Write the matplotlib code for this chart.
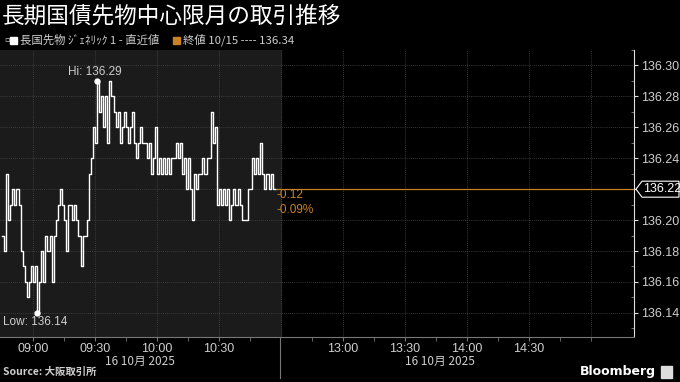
import matplotlib
matplotlib.use("Agg")
import matplotlib.pyplot as plt
import numpy as np
from matplotlib.lines import Line2D
from matplotlib.patches import Rectangle, Polygon

plt.rcParams['font.family'] = ['Noto Sans CJK JP', 'DejaVu Sans']

# price levels in 1/100 above 136.00, one per minute from 08:45
levels = [19, 18, 23, 20, 21, 22, 21, 22, 21, 18,
          17, 16, 15, 16, 17, 16, 17, 14, 16, 18,
          16, 19, 18, 19, 16, 19, 20, 21, 22, 21,
          20, 18, 21, 21, 20, 21, 20, 19, 17, 19,
          19, 20, 23, 24, 26, 25, 29, 27, 28, 26,
          28, 25, 29, 28, 27, 26, 27, 25, 26, 27,
          26, 25, 26, 27, 25, 24, 25, 26, 25, 25,
          24, 25, 23, 24, 26, 23, 24, 23, 24, 23,
          24, 23, 24, 24, 25, 24, 25, 23, 24, 22,
          24, 22, 20, 23, 22, 23, 23, 24, 23, 24,
          24, 27, 25, 26, 21, 22, 21, 22, 21, 22,
          20, 21, 22, 21, 22, 21, 20, 20, 20, 22,
          22, 24, 23, 24, 23, 25, 23, 22, 23, 22,
          23, 22, 22]
prices = 136 + np.array(levels) / 100.0
minutes = np.arange(len(prices))

last_price = 136.22
change_txt = ["-0.12", "-0.09%"]
hi_val, lo_val = 136.29, 136.14

# x axis: minutes from 08:45, lunch break removed (12:30 sits at 135)
major_pos = [15, 45, 75, 105, 165, 195, 225, 255]
major_lbl = ["09:00", "09:30", "10:00", "10:30", "13:00", "13:30", "14:00", "14:30"]
minor_pos = [30, 60, 90, 120, 150, 180, 210, 240, 270, 285]
session_split = 135
date_lbl = "16 10月 2025"

yticks = [136.14, 136.16, 136.18, 136.20, 136.22, 136.24, 136.26, 136.28, 136.30]

grey = '#cfcfcf'
orange = '#c98326'
num_font = 'Liberation Sans'

W, H = 680, 382


def fx(px):
    return px / W


def fy(py):
    return 1 - py / H


fig = plt.figure(figsize=(6.8, 3.82), dpi=100, facecolor='black')
ax = fig.add_axes([0.0, 0.1178, 0.932, 0.7513])
ax.set_facecolor('black')
ax.set_xlim(-0.97, 305.8)
ax.set_ylim(136.1244, 136.3044)

# morning session shading
ax.axvspan(-0.97, session_split, color='#1b1b1b', zorder=0)

# grid
for yv in yticks:
    ax.axhline(yv, color='#4a4a4a', lw=0.6, ls=(0, (1, 1.5)), zorder=1)
for xv in major_pos + [session_split, 285]:
    ax.axvline(xv, color='#4a4a4a', lw=0.6, ls=(0, (1, 1.5)), zorder=1)

# price line
ax.plot(minutes, prices, color='white', lw=1.0, drawstyle='steps-post', zorder=3)

# last price line
ax.plot([minutes[-1], 305.8], [last_price, last_price], color=orange, lw=0.9, zorder=2)
ax.text(minutes[-1] + 1, last_price - 0.0035, change_txt[0], color=orange,
        fontsize=8.5, va='center', ha='left', family=num_font)
ax.text(minutes[-1] + 1, last_price - 0.0135, change_txt[1], color=orange,
        fontsize=8.5, va='center', ha='left', family=num_font)

# hi / low markers
hi_i = int(np.argmax(prices))
lo_i = int(np.argmin(prices))
ax.plot([minutes[hi_i]], [hi_val], 'o', color='white', ms=3.5, zorder=4)
ax.plot([minutes[lo_i]], [lo_val], 'o', color='white', ms=3.5, zorder=4)
ax.text(minutes[hi_i] - 14, hi_val + 0.0055, "Hi: %.2f" % hi_val, color=grey,
        fontsize=8.5, va='center', ha='left', family=num_font)
ax.text(0.5, lo_val - 0.0058, "Low: %.2f" % lo_val, color=grey,
        fontsize=8.5, va='center', ha='left', family=num_font)

# axes styling
for s in ['top', 'left']:
    ax.spines[s].set_visible(False)
ax.spines['right'].set_color('#e0e0e0')
ax.spines['bottom'].set_color('#777777')
ax.yaxis.tick_right()
ax.set_yticks(yticks)
ax.set_yticklabels(["" if abs(v - last_price) < 1e-6 else "%.2f" % v for v in yticks],
                   family=num_font)
ax.set_yticks(np.arange(136.13, 136.31, 0.01), minor=True)
ax.tick_params(axis='y', which='major', colors='#e0e0e0', labelcolor=grey,
               labelsize=9, length=3, width=0.8, pad=2)
ax.tick_params(axis='y', which='minor', colors='#888888', length=2, direction='in')
ax.set_xticks(major_pos)
ax.set_xticklabels(major_lbl, family=num_font)
ax.set_xticks(minor_pos, minor=True)
ax.tick_params(axis='x', which='major', colors='#777777', labelcolor=grey,
               labelsize=9, length=3, pad=1)
ax.tick_params(axis='x', which='minor', colors='#777777', length=3)

# current value tag on the right axis
fig.canvas.draw()
tag_y = H - ax.transData.transform((0, last_price))[1]
tag = Polygon([(fx(636), fy(tag_y)), (fx(642), fy(tag_y - 8)), (fx(679), fy(tag_y - 8)),
               (fx(679), fy(tag_y + 8)), (fx(642), fy(tag_y + 8))],
              closed=True, fc='black', ec='white', lw=0.8)
fig.add_artist(tag)
fig.text(fx(643), fy(tag_y), "%.2f" % last_price, color='white', fontsize=9,
         va='center', ha='left', family=num_font)

# date labels under the time axis
fig.text(fx(140), fy(361), date_lbl, color=grey, fontsize=8.5, ha='center', va='center')
fig.text(fx(440), fy(361), date_lbl, color=grey, fontsize=8.5, ha='center', va='center')

# session separator below the axis
fig.add_artist(Line2D([fx(280), fx(280)], [fy(337), fy(378)], color='#777777', lw=0.8))

# title and legend
fig.text(fx(2), fy(16), "長期国債先物中心限月の取引推移", color='white',
         fontsize=16.3, ha='left', va='center')
fig.text(fx(4), fy(40), "▫", color=grey, fontsize=6, ha='left', va='center',
         family=['DejaVu Sans'])
fig.add_artist(Rectangle((fx(10), fy(44)), 7 / W, 7 / H, color='white'))
fig.text(fx(20), fy(40), "長国先物 ｼﾞｪﾈﾘｯｸ 1 - 直近値", color=grey,
         fontsize=8.2, ha='left', va='center')
fig.add_artist(Rectangle((fx(173), fy(44)), 7 / W, 7 / H, color=orange))
fig.text(fx(183), fy(40), "終値 10/15 ---- 136.34", color=grey,
         fontsize=8.2, ha='left', va='center')

# footer
fig.text(fx(3), fy(372), "Source: 大阪取引所", color=grey, fontsize=7.5,
         fontweight='bold', ha='left', va='center')
fig.text(fx(656), fy(372), "Bloomberg", color='white', fontsize=9,
         fontweight='bold', ha='right', va='center', family='DejaVu Sans')
fig.add_artist(Rectangle((fx(661), fy(378)), 11 / W, 12 / H, color='#dddddd'))

fig.savefig("out.png", dpi=100, facecolor='black')
